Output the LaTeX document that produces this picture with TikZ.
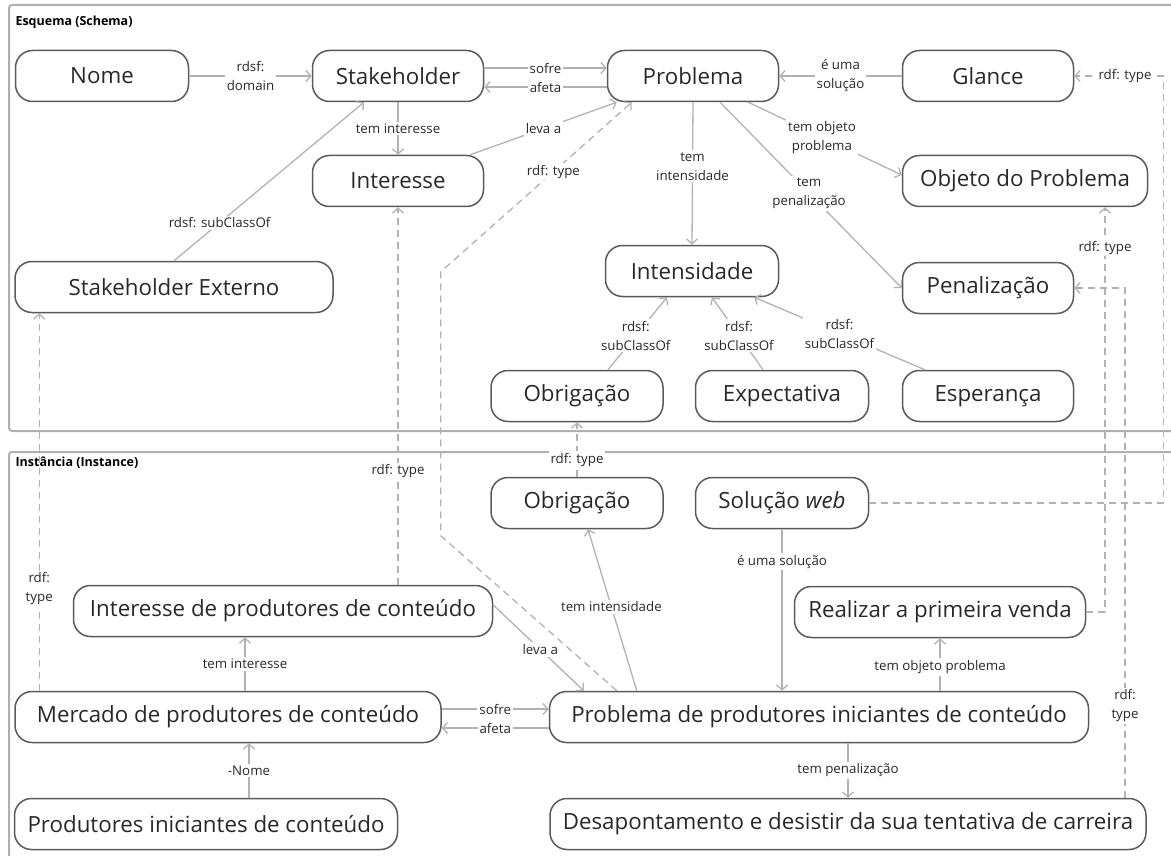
\documentclass[tikz,border=0pt]{standalone}
\usepackage{fontspec}
\setmainfont{Open Sans}
\usetikzlibrary{arrows.meta}
\definecolor{cEdge}{RGB}{178,178,178}
\definecolor{cBox}{RGB}{90,90,90}
\definecolor{cText}{RGB}{40,40,40}
\definecolor{cFrame}{RGB}{175,175,175}

\begin{document}
\begin{tikzpicture}[x=1pt,y=-1pt,
   box/.style={draw=cBox,line width=1.5pt,rounded corners=17pt,minimum height=51pt,
     inner sep=0pt,text=cText,font=\fontsize{22.3}{26}\selectfont},
   lbl/.style={fill=white,text=cText,font=\fontsize{13.3}{19}\selectfont,align=center,inner sep=2pt},
   rel/.style={draw=cEdge,line width=1.3pt},
   arr/.style={rel,-{Straight Barb[length=5pt,width=11pt]}},
   dtype/.style={arr,dash pattern=on 7pt off 5pt},
   frame/.style={draw=cFrame,line width=2pt,rounded corners=3pt},
   ttl/.style={anchor=west,font=\bfseries\fontsize{12.5}{14}\selectfont,text=black}]
  \useasboundingbox (0,0) rectangle (1171,856);
  \draw[frame] (9,5) rectangle (1190,431);
  \draw[frame] (9,452) rectangle (1190,870);
  \node[ttl] (tschema) at (12,22) {Esquema (Schema)};
  \node[ttl] (tinst) at (12,463) {Instância (Instance)};

  % schema
  \node[box,minimum width=173pt] (nome) at (102,76) {Nome};
  \node[box,minimum width=171pt] (stake) at (398,76) {Stakeholder};
  \node[box,minimum width=171pt] (prob) at (693,76) {Problema};
  \node[box,minimum width=171pt] (glance) at (988,76) {Glance};
  \node[box,minimum width=171pt] (inter) at (398,181) {Interesse};
  \node[box,minimum width=245pt] (obj) at (1025,181) {Objeto do Problema};
  \node[box,minimum width=318pt] (stext) at (174,287) {Stakeholder Externo};
  \node[box,minimum width=173pt] (inten) at (692,271) {Intensidade};
  \node[box,minimum width=171pt] (pen) at (988,288) {Penalização};
  \node[box,minimum width=172pt] (obrs) at (577,396) {Obrigação};
  \node[box,minimum width=173pt] (expec) at (782,396) {Expectativa};
  \node[box,minimum width=171pt] (esper) at (988,396) {Esperança};

  % instance
  \node[box,minimum width=172pt] (obri) at (577,503) {Obrigação};
  \node[box,minimum width=173pt] (sol) at (782,503) {Solução \textit{web}};
  \node[box,minimum width=419pt] (intp) at (283,611) {Interesse de produtores de conteúdo};
  \node[box,minimum width=291pt] (real) at (940,612) {Realizar a primeira venda};
  \node[box,minimum width=426pt] (merc) at (228,717) {Mercado de produtores de conteúdo};
  \node[box,minimum width=539pt] (probp) at (819,717) {Problema de produtores iniciantes de conteúdo};
  \node[box,minimum width=383pt] (prod) at (206,824) {Produtores iniciantes de conteúdo};
  \node[box,minimum width=596pt] (desap) at (848,824) {Desapontamento e desistir da sua tentativa de carreira};

  % schema relations
  \draw[arr] (nome) -- node[lbl]{rdsf:\\domain} (stake);
  \draw[arr] ([yshift=8pt]stake.east) -- node[lbl]{sofre} ([yshift=8pt]prob.west);
  \draw[arr] ([yshift=-11pt]prob.west) -- node[lbl]{afeta} ([yshift=-11pt]stake.east);
  \draw[arr] (glance) -- node[lbl]{é uma\\solução} (prob);
  \draw[arr] (stake) -- node[lbl]{tem interesse} (inter);
  \draw[arr] ([xshift=-14pt]inter.north east) -- node[lbl]{leva a} ([xshift=10pt]prob.south west);
  \draw[arr] (stext.north) -- node[lbl,pos=0.24]{rdsf: subClassOf} ([xshift=-34pt]stake.south);
  \draw[arr] (prob.south) -- node[lbl,pos=0.45]{tem\\intensidade} (inten.north);
  \draw[arr] ([xshift=-31pt]prob.south east) -- node[lbl,pos=0.48]{tem objeto\\problema} ([yshift=6pt]obj.west);
  \draw[arr] ([xshift=27pt]prob.south) -- node[lbl,pos=0.49]{tem\\penalização} (pen.west);
  \draw[arr] ([xshift=31pt]obrs.north) -- node[lbl,pos=0.47]{rdsf:\\subClassOf} ([xshift=-25pt]inten.south);
  \draw[arr] ([xshift=-19pt]expec.north) -- node[lbl,pos=0.47]{rdsf:\\subClassOf} ([xshift=20pt]inten.south);
  \draw[arr] ([xshift=-63pt]esper.north) -- node[lbl,pos=0.5]{rdsf:\\subClassOf} ([xshift=62pt]inten.south);

  % rdf: type links
  \draw[dtype] (obri) -- node[lbl,pos=0.31]{rdf: type} (obrs);
  \draw[dtype] (intp.north -| inter.south) -- node[lbl,pos=0.3]{rdf: type} (inter.south);
  \draw[dtype] ([xshift=25pt]merc.north west) -- node[lbl,pos=0.27]{rdf:\\type} ([xshift=25pt]stext.south west);
  \draw[dtype] ([xshift=68pt]probp.north west) -- ++(-176,-155) -- ++(0,-264)
     -- node[lbl,pos=0.59]{rdf: type} ([xshift=25pt]prob.south west);
  \draw[dtype] (real.east) -| node[lbl,pos=0.95]{rdf: type} ([xshift=80pt]obj.south);
  \draw[dtype] ([xshift=277pt]desap.north) |- node[lbl,pos=0.09]{rdf:\\type} (pen.east);
  \draw[dtype] (sol.east) -| ([xshift=89pt]glance.east) -- node[lbl,pos=0.43]{rdf: type} (glance.east);

  % instance relations
  \draw[arr] ([yshift=6pt]intp.east) -- node[lbl,pos=0.52]{leva a} ([xshift=35pt]probp.north west);
  \draw[arr] ([xshift=88pt]probp.north west) -- node[lbl,pos=0.52]{tem intensidade} ([xshift=11pt]obri.south);
  \draw[arr] (sol.south) -- node[lbl,pos=0.2]{é uma solução} (sol.south |- probp.north);
  \draw[arr] (real.south |- probp.north) -- node[lbl,pos=0.45]{tem objeto problema} (real.south);
  \draw[arr] ([yshift=8pt]merc.east) -- node[lbl]{sofre} ([yshift=8pt]probp.west);
  \draw[arr] ([yshift=-11pt]probp.west) -- node[lbl]{afeta} ([yshift=-11pt]merc.east);
  \draw[arr] ([xshift=43pt]prod.north) -- node[lbl]{-Nome} ([xshift=43pt]prod.north |- merc.south);
  \draw[arr] ([xshift=17pt]merc.north) -- node[lbl]{tem interesse} ([xshift=17pt]merc.north |- intp.south);
  \draw[arr] ([xshift=29pt]probp.south) -- node[lbl]{tem penalização} ([xshift=29pt]probp.south |- desap.north);
\end{tikzpicture}
\end{document}
